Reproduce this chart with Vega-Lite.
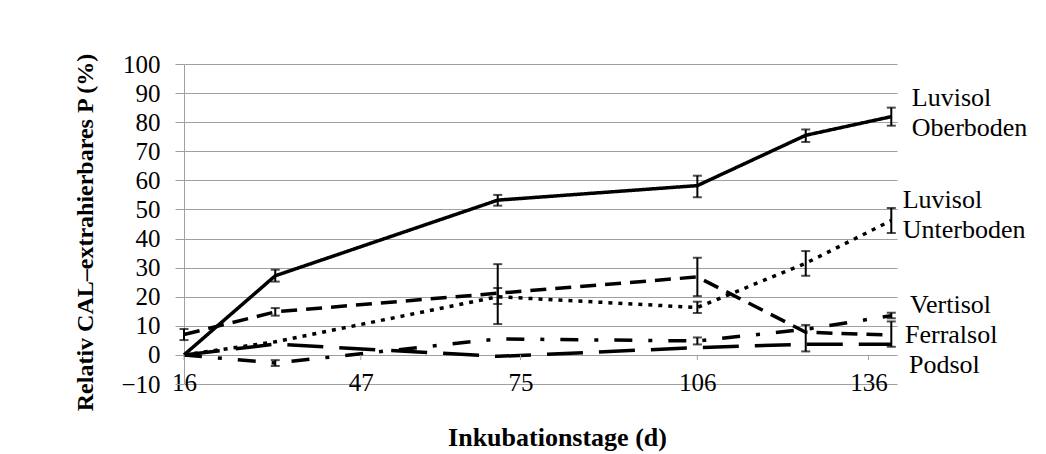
{
  "$schema": "https://vega.github.io/schema/vega-lite/v6.json",
  "width": 713,
  "height": 320,
  "autosize": "none",
  "padding": {"left": 184, "top": 64, "right": 149, "bottom": 70},
  "background": "white",
  "config": {"view": {"stroke": null}, "font": "Liberation Serif"},
  "datasets": {
    "pts": [
      {"s": "Luvisol Oberboden", "d": 16, "v": 0, "lo": null, "hi": null},
      {"s": "Luvisol Oberboden", "d": 32, "v": 27.2, "lo": 25.2, "hi": 29.3},
      {"s": "Luvisol Oberboden", "d": 71, "v": 53.2, "lo": 51.3, "hi": 55},
      {"s": "Luvisol Oberboden", "d": 106, "v": 58.2, "lo": 54.2, "hi": 61.6},
      {"s": "Luvisol Oberboden", "d": 125, "v": 75.5, "lo": 73.2, "hi": 77.5},
      {"s": "Luvisol Oberboden", "d": 140, "v": 81.9, "lo": 78.8, "hi": 85},
      {"s": "Luvisol Unterboden", "d": 16, "v": 0, "lo": null, "hi": null},
      {"s": "Luvisol Unterboden", "d": 32, "v": 4.5, "lo": null, "hi": null},
      {"s": "Luvisol Unterboden", "d": 71, "v": 20, "lo": 17.5, "hi": 23},
      {"s": "Luvisol Unterboden", "d": 106, "v": 16.3, "lo": 14.4, "hi": 18.3},
      {"s": "Luvisol Unterboden", "d": 125, "v": 31.5, "lo": 27.2, "hi": 35.7},
      {"s": "Luvisol Unterboden", "d": 140, "v": 46.2, "lo": 41.9, "hi": 50.5},
      {"s": "Vertisol", "d": 16, "v": 0, "lo": null, "hi": null},
      {"s": "Vertisol", "d": 32, "v": -2.8, "lo": -3.8, "hi": -1.8},
      {"s": "Vertisol", "d": 71, "v": 5.5, "lo": null, "hi": null},
      {"s": "Vertisol", "d": 106, "v": 4.8, "lo": 3.6, "hi": 6},
      {"s": "Vertisol", "d": 125, "v": 8.8, "lo": null, "hi": null},
      {"s": "Vertisol", "d": 140, "v": 13.5, "lo": 12.6, "hi": 14.5},
      {"s": "Ferralsol", "d": 16, "v": 7, "lo": 5.1, "hi": 8.9},
      {"s": "Ferralsol", "d": 32, "v": 14.8, "lo": 13.5, "hi": 16.1},
      {"s": "Ferralsol", "d": 71, "v": 21.2, "lo": 10.6, "hi": 31.2},
      {"s": "Ferralsol", "d": 106, "v": 26.8, "lo": 20.2, "hi": 33.4},
      {"s": "Ferralsol", "d": 125, "v": 7.8, "lo": 1.2, "hi": 10.3},
      {"s": "Ferralsol", "d": 140, "v": 6.8, "lo": 2.8, "hi": 11.5},
      {"s": "Podsol", "d": 16, "v": 0, "lo": null, "hi": null},
      {"s": "Podsol", "d": 32, "v": 3.7, "lo": null, "hi": null},
      {"s": "Podsol", "d": 71, "v": -0.5, "lo": null, "hi": null},
      {"s": "Podsol", "d": 106, "v": 2.5, "lo": null, "hi": null},
      {"s": "Podsol", "d": 125, "v": 3.7, "lo": null, "hi": null},
      {"s": "Podsol", "d": 140, "v": 3.7, "lo": null, "hi": null}
    ],
    "xticks": [{"d": 16}, {"d": 47}, {"d": 75}, {"d": 106}, {"d": 136}],
    "labels": [
      {"t": "Luvisol", "x": 143.6, "y": 88.3},
      {"t": "Oberboden", "x": 143.6, "y": 78},
      {"t": "Luvisol", "x": 142.0, "y": 53.2},
      {"t": "Unterboden", "x": 142.0, "y": 42.9},
      {"t": "Vertisol", "x": 143.3, "y": 17.2},
      {"t": "Ferralsol", "x": 142.4, "y": 6.8},
      {"t": "Podsol", "x": 143.1, "y": -3.5}
    ]
  },
  "layer": [
    {
      "data": {"name": "pts"},
      "mark": {"type": "line", "color": "black", "strokeWidth": 3.5, "strokeCap": "butt"},
      "encoding": {
        "x": {
          "field": "d", "type": "quantitative",
          "scale": {"domain": [16, 141], "nice": false, "zero": false},
          "axis": {
            "values": [16, 47, 75, 106, 136], "tickCount": 30,
            "domain": false, "ticks": false, "grid": false,
            "labelFont": "Liberation Serif", "labelFontSize": 25, "labelColor": "black",
            "labelPadding": -14, "labelFlush": false, "labelOverlap": false,
            "title": "Inkubationstage (d)",
            "titleFont": "Liberation Serif", "titleFontSize": 26, "titleFontWeight": "bold", "titleColor": "black",
            "titleX": 373, "titleY": 53, "titleAlign": "center", "titleBaseline": "middle", "titleAnchor": null
          }
        },
        "y": {
          "field": "v", "type": "quantitative",
          "scale": {"domain": [-10, 100], "nice": false, "zero": false},
          "axis": {
            "values": [-10, 0, 10, 20, 30, 40, 50, 60, 70, 80, 90, 100], "tickCount": 30,
            "grid": true, "gridColor": "#a0a0a0", "gridWidth": 1,
            "domainColor": "#a0a0a0", "tickColor": "#a0a0a0", "tickSize": 9,
            "labelFont": "Liberation Serif", "labelFontSize": 25, "labelColor": "black", "labelPadding": 15,
            "labelOverlap": false, "labelFlush": false,
            "title": "Relativ CAL–extrahierbares P (%)",
            "titleFont": "Liberation Serif", "titleFontSize": 24, "titleFontWeight": "bold", "titleColor": "black",
            "titleAngle": -90, "titleX": -99, "titleY": 168, "titleAlign": "center", "titleBaseline": "middle", "titleAnchor": null
          }
        },
        "detail": {"field": "s"},
        "strokeDash": {
          "field": "s", "type": "nominal",
          "scale": {
            "domain": ["Luvisol Oberboden", "Luvisol Unterboden", "Vertisol", "Ferralsol", "Podsol"],
            "range": [[1, 0], [4, 6], [18, 16, 4, 16], [16, 9], [36, 16]]
          },
          "legend": null
        }
      }
    },
    {
      "data": {"name": "pts"},
      "transform": [{"filter": "datum.lo != null"}],
      "mark": {"type": "rule", "color": "black", "strokeWidth": 2},
      "encoding": {
        "x": {"field": "d", "type": "quantitative"},
        "y": {"field": "lo", "type": "quantitative"},
        "y2": {"field": "hi"}
      }
    },
    {
      "data": {"name": "pts"},
      "transform": [{"filter": "datum.lo != null"}],
      "mark": {"type": "tick", "orient": "horizontal", "color": "black", "size": 9, "thickness": 2},
      "encoding": {
        "x": {"field": "d", "type": "quantitative"},
        "y": {"field": "lo", "type": "quantitative"}
      }
    },
    {
      "data": {"name": "pts"},
      "transform": [{"filter": "datum.lo != null"}],
      "mark": {"type": "tick", "orient": "horizontal", "color": "black", "size": 9, "thickness": 2},
      "encoding": {
        "x": {"field": "d", "type": "quantitative"},
        "y": {"field": "hi", "type": "quantitative"}
      }
    },
    {
      "data": {"name": "xticks"},
      "mark": {"type": "rule", "color": "#a0a0a0", "strokeWidth": 1},
      "encoding": {
        "x": {"field": "d", "type": "quantitative"},
        "y": {"datum": 0},
        "y2": {"datum": -1.8}
      }
    },
    {
      "data": {"name": "labels"},
      "mark": {"type": "text", "align": "left", "baseline": "middle", "font": "Liberation Serif", "fontSize": 26, "color": "black"},
      "encoding": {
        "x": {"field": "x", "type": "quantitative"},
        "y": {"field": "y", "type": "quantitative"},
        "text": {"field": "t"}
      }
    }
  ]
}
